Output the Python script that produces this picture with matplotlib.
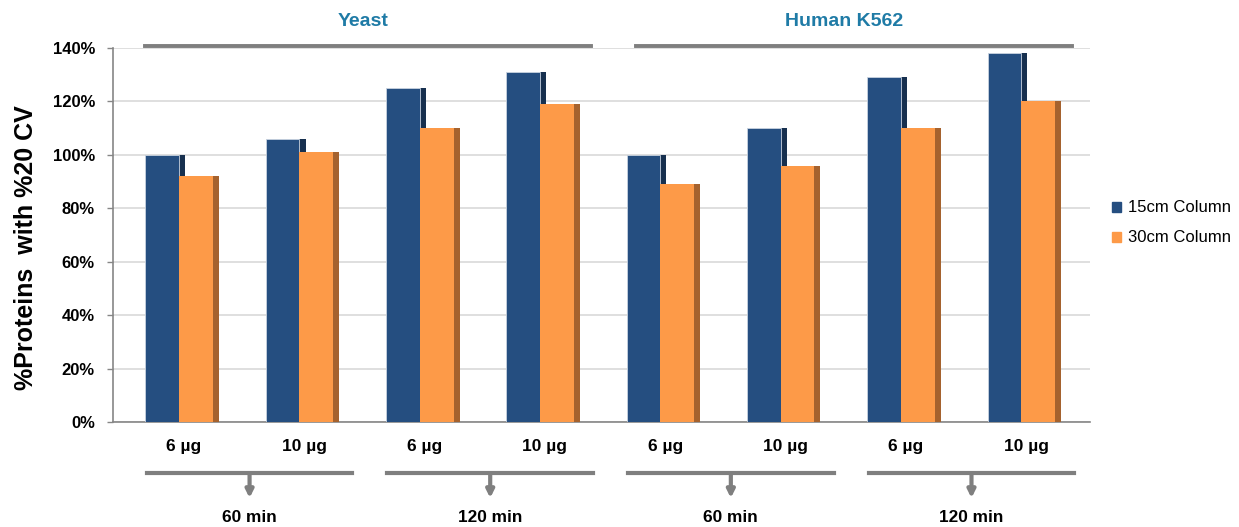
import matplotlib.pyplot as plt
import matplotlib.transforms as mtransforms
from matplotlib.patches import Patch
from matplotlib.lines import Line2D

plt.rcParams['font.family'] = ['Liberation Sans', 'DejaVu Sans']

# data
doses = ['6 µg', '10 µg', '6 µg', '10 µg', '6 µg', '10 µg', '6 µg', '10 µg']
col15 = [100, 106, 125, 131, 100, 110, 129, 138]
col30 = [92, 101, 110, 119, 89, 96, 110, 120]
series = ['15cm Column', '30cm Column']
organisms = ['Yeast', 'Human K562']
org_span = [(0, 3), (4, 7)]
times = ['60 min', '120 min', '60 min', '120 min']
time_span = [(0, 1), (2, 3), (4, 5), (6, 7)]

blue = '#254e80'
blue_side = '#17304f'
orange = '#fd9a48'
orange_side = '#a5622e'
grey = '#7f7f7f'

W, H = 1239, 527
fig = plt.figure(figsize=(W / 100, H / 100), dpi=100)
ax = fig.add_axes([113 / W, (H - 422) / H, (1090 - 113) / W, (422 - 48) / H])

x = list(range(len(doses)))
w = 0.28   # bar width
d = 0.05   # depth strip on the right side

# back series first, the orange bar sits in front of its dark side
ax.bar([i + d / 2 for i in x], col15, width=d, color=blue_side, zorder=2)
ax.bar([i - w / 2 for i in x], col15, width=w, color=blue,
       edgecolor='#c9d3e0', linewidth=0.6, zorder=3)
ax.bar([i + w + d / 2 for i in x], col30, width=d, color=orange_side, zorder=3)
ax.bar([i + w / 2 for i in x], col30, width=w, color=orange, zorder=4)

ax.set_xlim(-0.55, 7.57)
ax.set_ylim(0, 140)
ax.set_yticks(range(0, 141, 20))
ax.set_yticklabels([f'{v}%' for v in range(0, 141, 20)],
                   fontsize=12, fontweight='bold')
ax.tick_params(axis='y', length=4, width=1, color='#868686', pad=9)
ax.set_xticks([])
ax.grid(axis='y', color='#d9d9d9', linewidth=1.2, zorder=0)
ax.set_axisbelow(True)
for s in ['top', 'right']:
    ax.spines[s].set_visible(False)
for s in ['left', 'bottom']:
    ax.spines[s].set_color('#868686')
    ax.spines[s].set_linewidth(1.2)

fig.text(26 / W, 1 - 248 / H, '%Proteins  with %20 CV', rotation=90,
         ha='center', va='center', fontsize=18, fontweight='bold')

# x in data, y in figure fraction
tr = mtransforms.blended_transform_factory(ax.transData, fig.transFigure)

def fy(py):
    return 1 - py / H

for i, lab in zip(x, doses):
    ax.text(i + 0.04, fy(446), lab, transform=tr, ha='center', va='center',
            fontsize=12.5, fontweight='bold')

# organism headers
for name, (a, b) in zip(organisms, org_span):
    x0 = a - 0.28 if a == 0 else a - 0.2
    ax.add_line(Line2D([x0, b + 0.42], [fy(46), fy(46)], transform=tr,
                       color=grey, lw=2.8, clip_on=False))
    ax.text((a + b) / 2 + 0.03, fy(22), name, transform=tr, ha='center',
            va='center', fontsize=14, fontweight='bold', color='#1f7ba6')

# gradient time brackets with arrows
for name, (a, b) in zip(times, time_span):
    x0, x1 = a - 0.27, b + 0.44
    xm = (x0 + x1) / 2
    ax.add_line(Line2D([x0, x1], [fy(473), fy(473)], transform=tr,
                       color=grey, lw=3, clip_on=False))
    ax.annotate('', xy=(xm, fy(498)), xytext=(xm, fy(474)),
                xycoords=tr, textcoords=tr,
                arrowprops=dict(arrowstyle='-|>', color=grey, lw=3,
                                mutation_scale=11, shrinkA=0, shrinkB=0))
    ax.text(xm, fy(518), name, transform=tr, ha='center', va='center',
            fontsize=12.4, fontweight='bold')

handles = [Patch(color=blue), Patch(color=orange)]
fig.legend(handles, series, loc='center left',
           bbox_to_anchor=(1112 / W, fy(223)), frameon=False,
           borderpad=0, borderaxespad=0,
           handlelength=0.55, handleheight=0.55, handletextpad=0.4,
           labelspacing=0.9, fontsize=12)

fig.savefig('out.png', dpi=100)
